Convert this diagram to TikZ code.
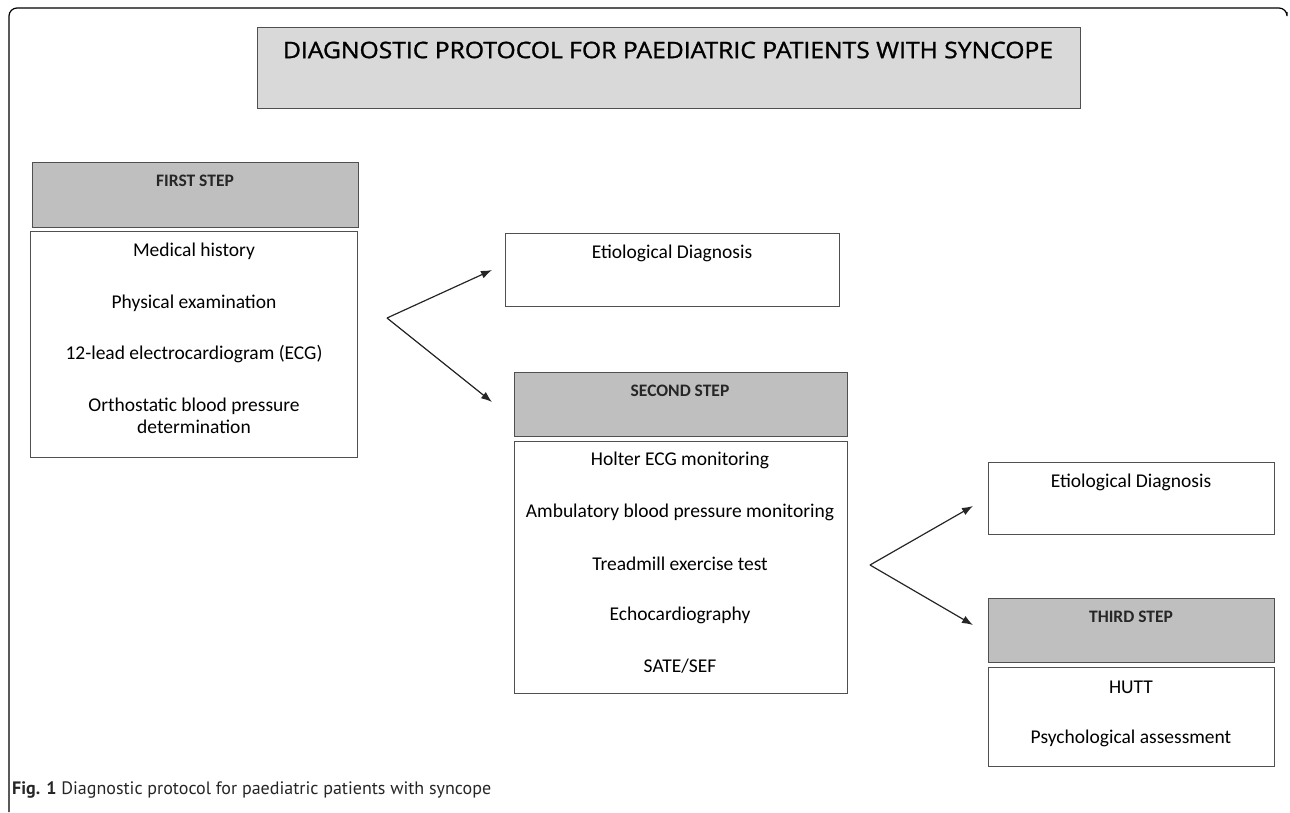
\documentclass[tikz,border=0pt]{standalone}
\usepackage{fontspec}
\setmainfont{Carlito}
\newfontfamily\capfont{PT Sans}
\newfontfamily\titlefont[FakeBold=1.2]{Open Sans}
\usetikzlibrary{arrows.meta}
\definecolor{titlegray}{HTML}{D9D9D9}
\definecolor{headgray}{HTML}{BFBFBF}
\definecolor{edgegray}{HTML}{505050}
\definecolor{inkgray}{HTML}{262626}
\begin{document}
\begin{tikzpicture}[x=1pt,y=-1pt,
  boxbase/.style={draw=edgegray, line width=1.3pt, anchor=north west, inner sep=0pt},
  titlebox/.style={boxbase, fill=titlegray},
  headbox/.style={boxbase, fill=headgray},
  listbox/.style={boxbase, fill=white},
  itemtext/.style={font=\fontsize{19.5}{21}\selectfont, text=black, inner sep=0pt},
  headtext/.style={font=\fontsize{17.5}{19}\selectfont\bfseries, text=inkgray, inner sep=0pt},
  arr/.style={draw=inkgray, line width=1.2pt, -{Latex[length=11pt,width=8pt]}}
]
\useasboundingbox (0,0) rectangle (1290,812);
% outer frame
\draw[line width=1.2pt, black, rounded corners=8pt] (9,812) -- (9,8) -- (1287,8) -- (1287,12);

% title
\node[titlebox, minimum width=823pt, minimum height=81pt] (title) at (257,27) {};
\node[inner sep=0pt, text=black] (titletext) at (668,50)
  {\resizebox{770pt}{16.5pt}{\titlefont DIAGNOSTIC PROTOCOL FOR PAEDIATRIC PATIENTS WITH SYNCOPE}};

% first step
\node[headbox, minimum width=326pt, minimum height=65pt] (first) at (32,162) {};
\node[headtext] (firsttext) at (195,181) {FIRST STEP};
\node[listbox, minimum width=327pt, minimum height=226pt] (firstlist) at (30,231) {};
\node[itemtext] (f1) at (194,251) {Medical history};
\node[itemtext] (f2) at (194,303) {Physical examination};
\node[itemtext] (f3) at (194,354) {12-lead electrocardiogram (ECG)};
\node[itemtext] (f4) at (194,406) {Orthostatic blood pressure};
\node[itemtext] (f5) at (194,427) {determination};

% etiological 1
\node[listbox, minimum width=334pt, minimum height=73pt] (etio1) at (505,233) {};
\node[itemtext] (e1) at (672,253) {Etiological Diagnosis};

% second step
\node[headbox, minimum width=333pt, minimum height=64pt] (second) at (514,372) {};
\node[headtext] (secondtext) at (680,391) {SECOND STEP};
\node[listbox, minimum width=333pt, minimum height=252pt] (secondlist) at (514,441) {};
\node[itemtext] (s1) at (680,460) {Holter ECG monitoring};
\node[itemtext] (s2) at (680,512) {Ambulatory blood pressure monitoring};
\node[itemtext] (s3) at (680,564) {Treadmill exercise test};
\node[itemtext] (s4) at (680,615) {Echocardiography};
\node[itemtext] (s5) at (680,666) {SATE/SEF};

% etiological 2
\node[listbox, minimum width=286pt, minimum height=72pt] (etio2) at (988,462) {};
\node[itemtext] (e2) at (1131,482) {Etiological Diagnosis};

% third step
\node[headbox, minimum width=286pt, minimum height=64pt] (third) at (988,598) {};
\node[headtext] (thirdtext) at (1131,617) {THIRD STEP};
\node[listbox, minimum width=286pt, minimum height=99pt] (thirdlist) at (988,667) {};
\node[itemtext] (t1) at (1131,687) {HUTT};
\node[itemtext] (t2) at (1131,738) {Psychological assessment};

% connectors
\coordinate (v1) at (387,318);
\coordinate (tip1a) at (492,270);
\coordinate (tip1b) at (492,402);
\draw[arr] (v1) -- (tip1a);
\draw[arr] (v1) -- (tip1b);
\coordinate (v2) at (870,565);
\coordinate (tip2a) at (973,506);
\coordinate (tip2b) at (973,625);
\draw[arr] (v2) -- (tip2a);
\draw[arr] (v2) -- (tip2b);

% caption
\node[anchor=base west, inner sep=0pt, font=\capfont\fontsize{18}{20}\selectfont, text=inkgray] (caption) at (12,794)
  {\textbf{Fig. 1} Diagnostic protocol for paediatric patients with syncope};
\end{tikzpicture}
\end{document}
